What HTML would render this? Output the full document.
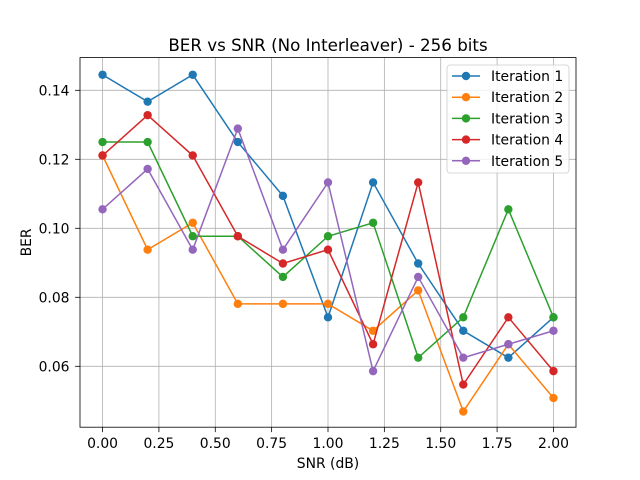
<!DOCTYPE html>
<html><head><meta charset="utf-8"><style>
body{margin:0;background:#fff}
svg{display:block;font-family:"DejaVu Sans","Liberation Sans",sans-serif}
</style></head><body>
<svg id="chart" width="640" height="480"></svg>
<script>
const snr=[0,0.2,0.4,0.6,0.8,1.0,1.2,1.4,1.6,1.8,2.0];
const iter1=[0.1445,0.1367,0.1445,0.125,0.1094,0.0742,0.1133,0.0898,0.0703,0.0625,0.0742];
const iter2=[0.1211,0.0938,0.1016,0.0781,0.0781,0.0781,0.0703,0.082,0.0469,0.0664,0.0508];
const iter3=[0.125,0.125,0.0977,0.0977,0.0859,0.0977,0.1016,0.0625,0.0742,0.1055,0.0742];
const iter4=[0.1211,0.1328,0.1211,0.0977,0.0898,0.0938,0.0664,0.1133,0.0547,0.0742,0.0586];
const iter5=[0.1055,0.1172,0.0938,0.1289,0.0938,0.1133,0.0586,0.0859,0.0625,0.0664,0.0703];
const seriesNames=["Iteration 1","Iteration 2","Iteration 3","Iteration 4","Iteration 5"];
const xTicks=[0,0.25,0.5,0.75,1.0,1.25,1.5,1.75,2.0];
const xTickLabels=["0.00","0.25","0.50","0.75","1.00","1.25","1.50","1.75","2.00"];
const yTicks=[0.06,0.08,0.10,0.12,0.14];
const yTickLabels=["0.06","0.08","0.10","0.12","0.14"];
const allSeries=[iter1,iter2,iter3,iter4,iter5];
const colors=["#1f77b4","#ff7f0e","#2ca02c","#d62728","#9467bd"];
const L=80,R=576,T=57.6,B=427.2;
const xMin=-0.1,xMax=2.1;
const yTop=0.14+(90.3-T)/3450, yBot=0.14-(B-90.3)/3450;
function xs(v){return L+(v-xMin)/(xMax-xMin)*(R-L);}
function ys(v){return B-(v-yBot)/(yTop-yBot)*(B-T);}
const svg=document.getElementById('chart');
const NS="http://www.w3.org/2000/svg";
function mk(tag,attrs,parent){const e=document.createElementNS(NS,tag);for(const k in attrs)e.setAttribute(k,attrs[k]);(parent||svg).appendChild(e);return e;}
mk('rect',{x:L,y:T,width:R-L,height:B-T,fill:'#fff'});
xTicks.forEach((t,i)=>{const x=xs(t);
 const g=mk('line',{x1:x,x2:x,y1:T,y2:B,stroke:'#b0b0b0','stroke-width':0.8});
 
 
 mk('line',{x1:x,x2:x,y1:B,y2:B+4.9,stroke:'#000','stroke-width':0.8});
 const tx=mk('text',{x:x,y:B+21,'text-anchor':'middle','font-size':13.9});tx.textContent=xTickLabels[i];
 
 
});
yTicks.forEach((t,i)=>{const y=ys(t);
 const g=mk('line',{x1:L,x2:R,y1:y,y2:y,stroke:'#b0b0b0','stroke-width':0.8});
 
 
 mk('line',{x1:L-4.9,x2:L,y1:y,y2:y,stroke:'#000','stroke-width':0.8});
 const tx=mk('text',{x:L-10.5,y:y+5,'text-anchor':'end','font-size':13.9});tx.textContent=yTickLabels[i];
 
 
});
allSeries.forEach((s,k)=>{
 const g=mk('g',{});
 
 
 mk('polyline',{points:s.map((v,i)=>xs(snr[i])+','+ys(v)).join(' '),fill:'none',stroke:colors[k],'stroke-width':1.5},g);
 s.forEach((v,i)=>{const c=mk('circle',{cx:xs(snr[i]),cy:ys(v),r:4.2,fill:colors[k]},g);
  
  });
});
mk('rect',{x:L,y:T,width:R-L,height:B-T,fill:'none',stroke:'#000','stroke-width':0.8});
const lg=mk('g',{});


mk('rect',{x:447,y:65,width:122,height:108,rx:3,fill:'#fff','fill-opacity':0.8,stroke:'#ccc','stroke-width':0.8},lg);
seriesNames.forEach((n,k)=>{const y=76+k*21.2;
 const e=mk('g',{},lg);
 
 
 mk('line',{x1:452,x2:480,y1:y,y2:y,stroke:colors[k],'stroke-width':1.5},e);
 mk('circle',{cx:466,cy:y,r:4.2,fill:colors[k]},e);
 const t=mk('text',{x:491,y:y+5,'font-size':13.9,fill:'#000'},e);t.textContent=n;});
const title=mk('text',{x:(L+R)/2,y:51,'text-anchor':'middle','font-size':16.7});title.textContent="BER vs SNR (No Interleaver) - 256 bits";


const xl=mk('text',{x:(L+R)/2,y:468,'text-anchor':'middle','font-size':13.9});xl.textContent="SNR (dB)";


const yl=mk('text',{x:31,y:(T+B)/2,'text-anchor':'middle','font-size':13.9,transform:'rotate(-90 31 '+((T+B)/2)+')'});yl.textContent="BER";


</script>
</body></html>
